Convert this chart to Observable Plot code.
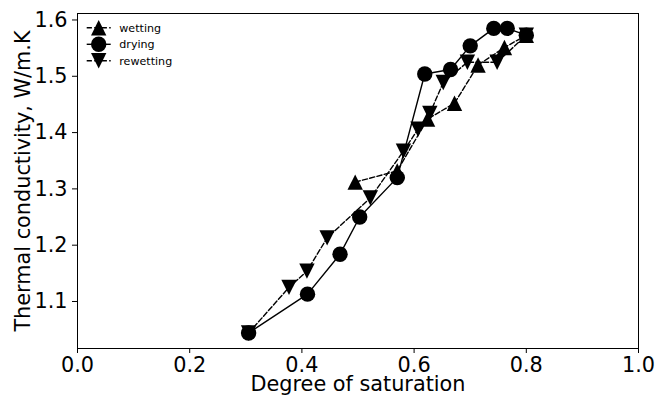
<!DOCTYPE html>
<html>
<head>
<meta charset="utf-8">
<script src="https://cdn.jsdelivr.net/npm/d3@7"></script>
<script src="https://cdn.jsdelivr.net/npm/@observablehq/plot@0.6"></script>
<style>
  html, body { margin: 0; padding: 0; background: #fff; }
  #chart { width: 670px; height: 399px; }
</style>
</head>
<body>
<div id="chart"></div>
<script>
// ---- data ----
const wettingX = [0.495, 0.570, 0.624, 0.672, 0.714, 0.761, 0.800];
const wettingY = [1.312, 1.332, 1.424, 1.452, 1.520, 1.551, 1.573];

const dryingX = [0.800, 0.766, 0.742, 0.700, 0.665, 0.619, 0.570, 0.503, 0.468, 0.410, 0.305];
const dryingY = [1.573, 1.585, 1.585, 1.554, 1.512, 1.504, 1.320, 1.250, 1.184, 1.113, 1.044];

const rewettingX = [0.305, 0.377, 0.409, 0.445, 0.522, 0.581, 0.607, 0.628, 0.652, 0.695, 0.748, 0.800];
const rewettingY = [1.044, 1.125, 1.154, 1.213, 1.284, 1.367, 1.406, 1.434, 1.489, 1.525, 1.525, 1.573];

const xTicks = [0.0, 0.2, 0.4, 0.6, 0.8, 1.0];
const yTicks = [1.1, 1.2, 1.3, 1.4, 1.5, 1.6];

const seriesNames = ["wetting", "drying", "rewetting"];
const xLabel = "Degree of saturation";
const yLabel = "Thermal conductivity, W/m.K";

// ---- build tables ----
const toRows = (xs, ys) => xs.map((x, i) => ({x, y: ys[i]}));
const wetting = toRows(wettingX, wettingY);
const drying = toRows(dryingX, dryingY);
const rewetting = toRows(rewettingX, rewettingY);

// matplotlib-like triangles (width == height == 2r)
const triUp = {draw(ctx, size) { const r = Math.sqrt(size / Math.PI); ctx.moveTo(0, -r); ctx.lineTo(r, r); ctx.lineTo(-r, r); ctx.closePath(); }};
const triDown = {draw(ctx, size) { const r = Math.sqrt(size / Math.PI); ctx.moveTo(0, r); ctx.lineTo(r, -r); ctx.lineTo(-r, -r); ctx.closePath(); }};

const FS = 20.8;
const R = 7.7;
const LW = 1.4;
const DASH = "5.2,2.3";

const chart = Plot.plot({
  width: 670,
  height: 399,
  marginLeft: 77,
  marginRight: 32,
  marginTop: 13,
  marginBottom: 51,
  style: {fontFamily: "DejaVu Sans", fontSize: FS + "px", color: "black", background: "white"},
  x: {domain: [0, 1], ticks: xTicks, tickFormat: d3.format(".1f"), tickSize: 5, tickPadding: 3.5, label: null},
  y: {domain: [1.0165, 1.6115], ticks: yTicks, tickFormat: d3.format(".1f"), tickSize: 5, tickPadding: 5, label: null},
  marks: [
    Plot.frame({stroke: "black", strokeWidth: 1}),
    Plot.line(wetting, {x: "x", y: "y", stroke: "black", strokeWidth: LW, strokeDasharray: DASH}),
    Plot.dot(wetting, {x: "x", y: "y", r: R, symbol: triUp, fill: "black", stroke: "none"}),
    Plot.line(drying, {x: "x", y: "y", stroke: "black", strokeWidth: LW}),
    Plot.dot(drying, {x: "x", y: "y", r: R, symbol: "circle", fill: "black", stroke: "none"}),
    Plot.line(rewetting, {x: "x", y: "y", stroke: "black", strokeWidth: LW, strokeDasharray: DASH}),
    Plot.dot(rewetting, {x: "x", y: "y", r: R, symbol: triDown, fill: "black", stroke: "none"}),
    Plot.text([xLabel], {text: d => d, frameAnchor: "bottom", textAnchor: "middle", lineAnchor: "middle", dy: 36, fontSize: FS, fill: "black"}),
    Plot.text([yLabel], {text: d => d, frameAnchor: "left", textAnchor: "middle", lineAnchor: "middle", rotate: -90, dx: -54, fontSize: FS, fill: "black"})
  ]
});

// ---- legend (upper left, no frame) ----
const svg = d3.select(chart);
const legend = svg.append("g")
  .attr("font-family", "DejaVu Sans")
  .style("font-size", "11.1px")
  .attr("text-anchor", "start");
const legendSymbols = [triUp, d3.symbolCircle, triDown];
const legendDash = [DASH, null, DASH];
const lx0 = 86.7, lx1 = 110.7, lxm = 98.7, ltx = 119.3, ly0 = 27.8, lstep = 16.5;
seriesNames.forEach((name, i) => {
  const y = ly0 + i * lstep;
  legend.append("line")
    .attr("x1", lx0).attr("x2", lx1).attr("y1", y).attr("y2", y)
    .attr("stroke", "black").attr("stroke-width", LW)
    .attr("stroke-dasharray", legendDash[i]);
  legend.append("path")
    .attr("transform", `translate(${lxm},${y})`)
    .attr("d", d3.symbol(legendSymbols[i], R * R * Math.PI)())
    .attr("fill", "black");
  legend.append("text")
    .attr("x", ltx).attr("y", y).attr("dy", "0.35em")
    .attr("fill", "black")
    .text(name);
});

document.getElementById("chart").appendChild(chart);
</script>
</body>
</html>
